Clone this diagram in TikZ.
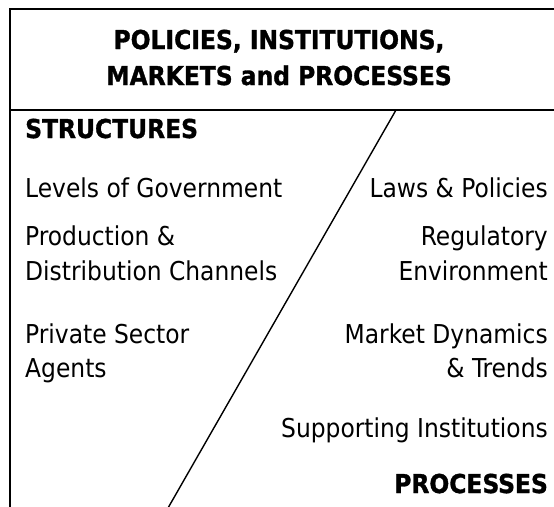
\documentclass[tikz,border=0pt]{standalone}
\usepackage{fontspec}
\setmainfont[BoldFeatures={FakeBold=1.2}]{DejaVu Sans Condensed}
\begin{document}
\begin{tikzpicture}[x=1pt,y=-1pt,
  frameline/.style={line width=1.8pt,black},
  divline/.style={line width=1.4pt,black},
  body/.style={inner sep=0pt,font=\fontsize{26}{30}\selectfont},
  head/.style={inner sep=0pt,font=\fontsize{26}{30}\selectfont\bfseries}]
\useasboundingbox (0,0) rectangle (554,506);
\coordinate (tl) at (10,9);
\coordinate (tr) at (556,9);
\coordinate (ml) at (10,110);
\coordinate (mr) at (556,110);
\coordinate (bl) at (10,508);
\coordinate (dtop) at (396,110);
\coordinate (dbot) at (168,508);
\draw[frameline] (tr) -- (tl) -- (bl);
\draw[frameline] (ml) -- (mr);
\draw[divline] (dtop) -- (dbot);
\node[head,anchor=base] (t1) at (279,49) {POLICIES, INSTITUTIONS,};
\node[head,anchor=base] (t2) at (279,85) {MARKETS and PROCESSES};
\node[head,anchor=base west] (st) at (25,138) {STRUCTURES};
\node[body,anchor=base west] (l1) at (25,197) {Levels of Government};
\node[body,anchor=base west] (l2) at (25,245) {Production \&};
\node[body,anchor=base west] (l3) at (25,280) {Distribution Channels};
\node[body,anchor=base west] (l4) at (25,343) {Private Sector};
\node[body,anchor=base west] (l5) at (25,377) {Agents};
\node[body,anchor=base east] (r1) at (548,197) {Laws \& Policies};
\node[body,anchor=base east] (r2) at (548,245) {Regulatory};
\node[body,anchor=base east] (r3) at (548,280) {Environment};
\node[body,anchor=base east] (r4) at (548,343) {Market Dynamics};
\node[body,anchor=base east] (r5) at (548,377) {\& Trends};
\node[body,anchor=base east] (r6) at (548,437) {Supporting Institutions};
\node[head,anchor=base east] (pr) at (548,493) {PROCESSES};
\end{tikzpicture}
\end{document}
